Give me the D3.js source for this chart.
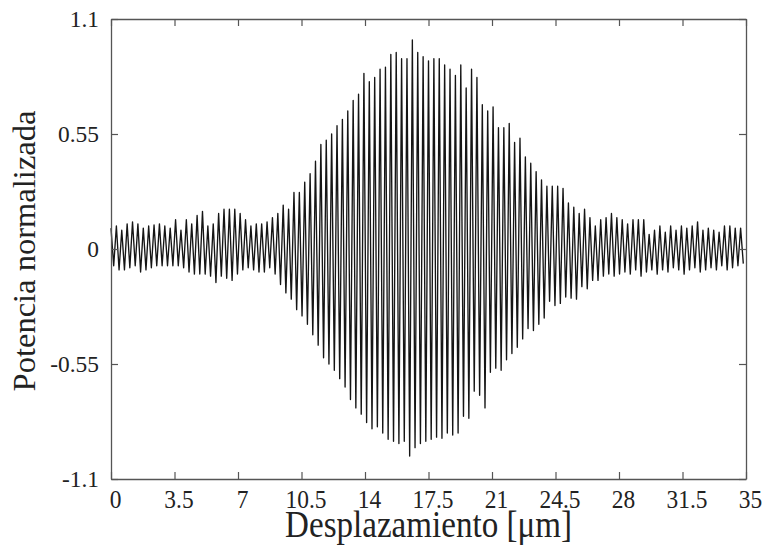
<!DOCTYPE html>
<html><head><meta charset="utf-8">
<script src="https://cdn.jsdelivr.net/npm/d3@7"></script>
<style>body{margin:0;background:#fff}svg{display:block}</style>
</head><body>
<svg id="c" width="764" height="546"></svg>
<script>
const xTicks = [0, 3.5, 7, 10.5, 14, 17.5, 21, 24.5, 28, 31.5, 35];
const yTicks = [-1.1, -0.55, 0, 0.55, 1.1];
const xLabel = "Desplazamiento [\u03bcm]";
const yLabel = "Potencia normalizada";
const crests = [.10,.11,.09,.12,.13,.12,.10,.11,.115,.12,
 .11,.10,.14,.09,.14,.12,.16,.18,.11,.12,
 .17,.19,.19,.19,.17,.14,.11,.12,.12,.13,
 .15,.17,.21,.19,.27,.27,.32,.36,.42,.50,
 .52,.55,.59,.62,.66,.71,.74,.84,.80,.82,
 .86,.87,.93,.94,.91,.91,1.00,.94,.92,.90,
 .91,.91,.88,.86,.83,.88,.77,.86,.82,.69,
 .66,.68,.58,.58,.60,.51,.53,.44,.41,.37,
 .33,.30,.30,.30,.29,.22,.20,.17,.19,.15,
 .11,.14,.15,.17,.15,.14,.12,.14,.14,.14,
 .07,.09,.11,.08,.11,.09,.11,.10,.11,.13,
 .09,.10,.09,.08,.11,.11,.10,.10];
const troughs = [-.08,-.10,-.10,-.09,-.08,-.11,-.10,-.09,-.08,-.08,
 -.08,-.08,-.08,-.09,-.11,-.12,-.12,-.12,-.13,-.16,
 -.13,-.14,-.15,-.12,-.10,-.09,-.10,-.11,-.11,-.09,
 -.12,-.17,-.21,-.24,-.29,-.32,-.36,-.41,-.46,-.52,
 -.55,-.58,-.62,-.66,-.72,-.76,-.79,-.83,-.86,-.85,
 -.88,-.91,-.92,-.93,-.92,-.99,-.95,-.93,-.92,-.91,
 -.90,-.905,-.88,-.89,-.88,-.80,-.81,-.68,-.70,-.76,
 -.59,-.57,-.58,-.53,-.50,-.47,-.43,-.38,-.39,-.36,
 -.33,-.25,-.27,-.26,-.23,-.235,-.24,-.18,-.19,-.15,
 -.15,-.13,-.12,-.13,-.12,-.11,-.12,-.10,-.13,-.11,
 -.10,-.12,-.10,-.11,-.09,-.10,-.12,-.10,-.09,-.11,
 -.10,-.09,-.10,-.08,-.10,-.09,-.08,-.07];

const L = 111, R = 746, T = 19, B = 479;
const x = d3.scaleLinear().domain([0, 35]).range([L, R]);
const y = d3.scaleLinear().domain([-1.1, 1.1]).range([B, T]);
const svg = d3.select("#c");

// pick an installed serif face (Times-like preferred)
function textWidth(family, str, size) {
  const t = svg.append("text").attr("font-family", family).attr("font-size", size).text(str);
  const w = t.node().getComputedTextLength();
  t.remove();
  return w;
}
const probe = "Desplazamiento [\u03bcm] 0123456789";
const base = textWidth("monospace", probe, 100);
const candidates = ["Liberation Serif", "Tinos", "Times New Roman", "Nimbus Roman", "Noto Serif", "DejaVu Serif"];
let face = "serif";
for (const c of candidates) {
  if (Math.abs(textWidth(`'${c}', monospace`, probe, 100) - base) > 0.5) { face = `'${c}'`; break; }
}
const font = face + ", serif";
const titleSize = Math.min(34, 287 / textWidth(font, xLabel, 100) * 100);
const ySize = Math.min(34, 281 / textWidth(font, yLabel, 100) * 100);
const tickSize = Math.min(26, 41 / textWidth(font, "10.5", 100) * 100);

// signal samples: alternating crest / trough, uniform sampling across the scan
const period = 35 / crests.length;
const pts = [];
crests.forEach((c, i) => {
  pts.push([i * period, c]);
  pts.push([(i + 0.5) * period, troughs[i]]);
});

svg.append("path")
  .datum(pts)
  .attr("fill", "none")
  .attr("stroke", "#151515")
  .attr("stroke-width", 1.35)
  .attr("stroke-linejoin", "round")
  .attr("d", d3.line().x(d => x(d[0])).y(d => y(d[1])));

const fmt = d => String(d);
const gx = svg.append("g").attr("transform", `translate(0,${B})`)
  .call(d3.axisBottom(x).tickValues(xTicks).tickSizeInner(-7).tickSizeOuter(0).tickFormat(fmt));
const gy = svg.append("g").attr("transform", `translate(${L},0)`)
  .call(d3.axisLeft(y).tickValues(yTicks).tickSizeInner(-7).tickSizeOuter(0).tickPadding(12).tickFormat(fmt));
const gt = svg.append("g").attr("transform", `translate(0,${T})`)
  .call(d3.axisTop(x).tickValues(xTicks).tickSizeInner(-7).tickSizeOuter(0).tickFormat(""));
const gr = svg.append("g").attr("transform", `translate(${R},0)`)
  .call(d3.axisRight(y).tickValues(yTicks).tickSizeInner(-7).tickSizeOuter(0).tickFormat(""));

[gx, gy, gt, gr].forEach(g => {
  g.attr("font-family", font);
  g.selectAll("path.domain").attr("stroke", "#555").attr("stroke-width", 1.3);
  g.selectAll(".tick line").attr("stroke", "#555").attr("stroke-width", 1.2);
  g.selectAll(".tick text").attr("font-family", font).attr("font-size", tickSize).attr("fill", "#222");
});
// x tick labels: baseline ~29px under the axis, slightly tall glyphs as in the reference
gx.selectAll(".tick text")
  .attr("y", 0).attr("dy", null)
  .attr("transform", "translate(4,29) scale(1,1.08)");
gy.selectAll(".tick text").attr("dy", "0.33em");

svg.append("text")
  .attr("transform", `translate(${(L + R) / 2},537) scale(1,1.12)`)
  .attr("text-anchor", "middle")
  .attr("font-family", font).attr("font-size", titleSize).attr("fill", "#222")
  .text(xLabel);
svg.append("text")
  .attr("transform", `translate(35,251) rotate(-90)`)
  .attr("text-anchor", "middle")
  .attr("font-family", font).attr("font-size", ySize).attr("fill", "#222")
  .text(yLabel);
</script>
</body></html>
